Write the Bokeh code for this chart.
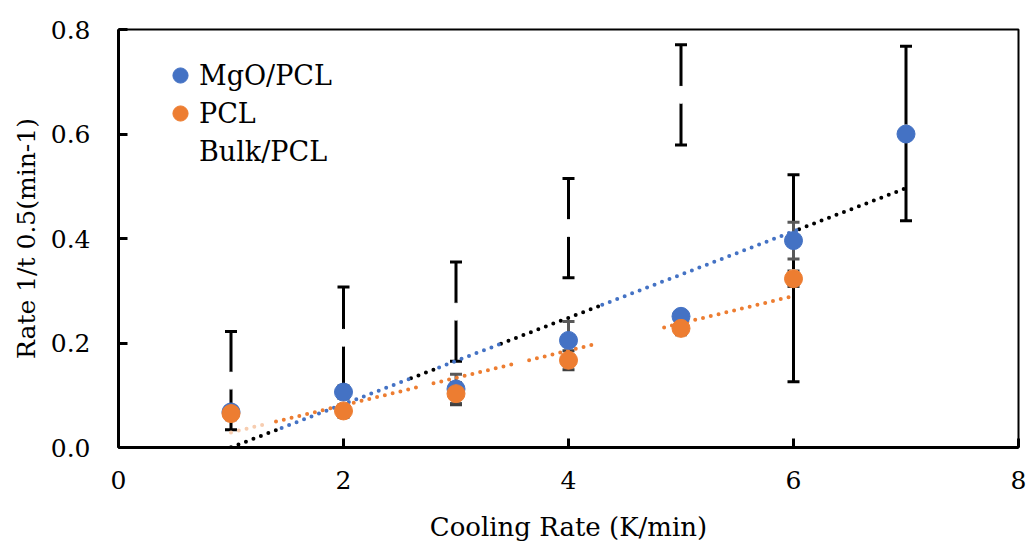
import numpy as np
from bokeh.plotting import figure
from bokeh.models import (ColumnDataSource, Whisker, TeeHead, FixedTicker,
                          PrintfTickFormatter, Legend, LegendItem, Range1d)
from bokeh.embed import file_html
from bokeh.resources import INLINE

# ---------------- data ----------------
mgo_x = [1, 2, 3, 4, 5, 6, 7]
mgo_y = [0.068, 0.106, 0.112, 0.205, 0.251, 0.396, 0.600]
mgo_err = [0.010, 0.012, 0.028, 0.036, 0.010, 0.035, 0.010]

pcl_x = [1, 2, 3, 4, 5, 6]
pcl_y = [0.065, 0.070, 0.103, 0.167, 0.228, 0.323]
pcl_err = [0.012, 0.012, 0.021, 0.018, 0.012, 0.015]

bulk_x = [1, 2, 3, 4, 5, 6, 7]
bulk_y = [0.128, 0.210, 0.260, 0.420, 0.675, 0.324, 0.601]
bulk_err = [0.094, 0.097, 0.095, 0.095, 0.096, 0.198, 0.167]

# visible pieces of the (partly masked) dotted trend lines
mgo_trend_span = (1.0, 7.0)
mgo_trend_blue_parts = [(1.45, 2.6), (2.85, 3.4), (4.3, 6.05)]
pcl_trend_parts = [(1.4, 2.65), (2.8, 3.5), (3.65, 4.25), (4.85, 6.0)]
pcl_trend_faint_parts = [(1.0, 1.3)]

x_ticks = [0, 2, 4, 6, 8]
y_ticks = [0.0, 0.2, 0.4, 0.6, 0.8]

# ---------------- style ----------------
BLUE = "#4472C4"
ORANGE = "#ED7D31"
FONT = "DejaVu Serif"

p = figure(width=1026, height=544, x_range=Range1d(0, 8), y_range=Range1d(0, 0.8),
           output_backend="svg", toolbar_location=None,
           min_border_left=118, min_border_right=8, min_border_top=29,
           min_border_bottom=97)
p.background_fill_color = "white"
p.border_fill_color = "white"
p.xgrid.visible = False
p.ygrid.visible = False
p.outline_line_color = "black"
p.outline_line_width = 2

def whisker(xs, ys, errs, color, lw=3, head=12):
    src = ColumnDataSource(dict(x=xs,
                                upper=[y + e for y, e in zip(ys, errs)],
                                lower=[y - e for y, e in zip(ys, errs)]))
    w = Whisker(source=src, base="x", upper="upper", lower="lower",
                line_color=color, line_width=lw,
                upper_head=TeeHead(size=head, line_color=color, line_width=lw),
                lower_head=TeeHead(size=head, line_color=color, line_width=lw))
    p.add_layout(w)

# Bulk/PCL: white (invisible) markers with black error bars
whisker(bulk_x, bulk_y, bulk_err, "black")
r_bulk = p.scatter(bulk_x, bulk_y, size=17, fill_color="white", line_color="white")

# linear trend lines fitted to the data
k_m, b_m = np.polyfit(mgo_x, mgo_y, 1)
k_p, b_p = np.polyfit(pcl_x, pcl_y, 1)

def dotted(x0, x1, k, b, color):
    xs = [x0, x1]
    p.line(xs, [k * x + b for x in xs], line_color=color, line_width=4,
           line_dash="0 8", line_cap="round")

edges = [mgo_trend_span[0]]
for a, c in mgo_trend_blue_parts:
    edges += [a, c]
edges.append(mgo_trend_span[1])
for i in range(0, len(edges), 2):
    dotted(edges[i], edges[i + 1], k_m, b_m, "black")
for a, c in mgo_trend_blue_parts:
    dotted(a, c, k_m, b_m, BLUE)
for a, c in pcl_trend_faint_parts:
    dotted(a, c, k_p, b_p, "#f7cdb0")
for a, c in pcl_trend_parts:
    dotted(a, c, k_p, b_p, ORANGE)

# MgO/PCL
whisker(mgo_x, mgo_y, mgo_err, "#595959", lw=3)
r_mgo = p.scatter(mgo_x, mgo_y, size=18, fill_color=BLUE, line_color=BLUE)

# PCL
whisker(pcl_x, pcl_y, pcl_err, "#404040", lw=3)
r_pcl = p.scatter(pcl_x, pcl_y, size=18, fill_color=ORANGE, line_color=ORANGE)

# axes
for ax in (p.xaxis[0], p.yaxis[0]):
    ax.axis_line_width = 3
    ax.axis_line_color = "black"
    ax.major_tick_line_width = 3
    ax.major_tick_line_color = "black"
    ax.major_tick_in = 9
    ax.major_tick_out = 0
    ax.minor_tick_line_color = None
    ax.major_label_text_font = FONT
    ax.major_label_text_font_size = "25px"
    ax.major_label_text_color = "black"
    ax.axis_label_text_font = FONT
    ax.axis_label_text_font_style = "normal"
    ax.axis_label_text_color = "black"

p.xaxis.axis_label_text_font_size = "26px"
p.yaxis.axis_label_text_font_size = "25px"
p.xaxis.ticker = FixedTicker(ticks=x_ticks)
p.yaxis.ticker = FixedTicker(ticks=y_ticks)
p.yaxis.formatter = PrintfTickFormatter(format="%.1f")
p.xaxis.axis_label = "Cooling Rate (K/min)"
p.yaxis.axis_label = "Rate 1/t 0.5(min-1)"
p.xaxis.major_label_standoff = 23
p.xaxis.axis_label_standoff = 20
p.yaxis.major_label_standoff = 28
p.yaxis.axis_label_standoff = 7

legend = Legend(items=[LegendItem(label="MgO/PCL", renderers=[r_mgo]),
                       LegendItem(label="PCL", renderers=[r_pcl]),
                       LegendItem(label="Bulk/PCL", renderers=[r_bulk])],
                location=(43, 277))
legend.label_text_font = FONT
legend.label_text_font_size = "27px"
legend.label_text_color = "black"
legend.glyph_width = 38
legend.glyph_height = 38
legend.label_height = 38
legend.label_standoff = -2
legend.spacing = 0
legend.padding = 0
legend.margin = 0
legend.border_line_alpha = 0
legend.background_fill_alpha = 0
p.add_layout(legend)

open("out.html", "w").write(file_html(p, INLINE))
